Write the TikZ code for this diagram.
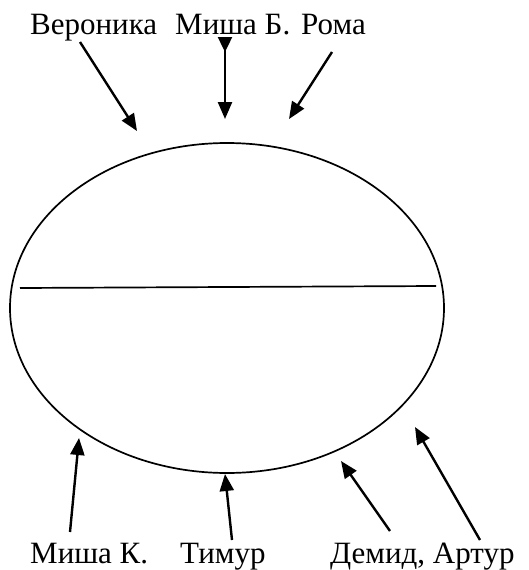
\documentclass[tikz,border=0pt]{standalone}
\usepackage{fontspec}
\setmainfont{Liberation Serif}
\usetikzlibrary{arrows.meta,shapes.geometric}
\begin{document}
\begin{tikzpicture}[x=1pt,y=-1pt,
  lbl/.style={anchor=base west,inner sep=0pt,font=\fontsize{31}{36}\selectfont},
  arr/.style={line width=2.4pt,-{Triangle[width=14pt,length=17pt]}},
  shape line/.style={line width=1.7pt}]
\useasboundingbox (0,0) rectangle (528,570);
\node[lbl] (ver) at (30,34) {Вероника};
\node[lbl] (mishab) at (175,34) {Миша Б.};
\node[lbl] (roma) at (301,34) {Рома};
\node[lbl] (mishak) at (30,563) {Миша К.};
\node[lbl] (timur) at (180,563) {Тимур};
\node[lbl] (demid) at (330,563) {Демид, Артур};
\node[draw,shape line,ellipse,minimum width=434pt,minimum height=330pt,inner sep=0pt] (oval) at (227,308) {};
\coordinate (hl) at (20,288);
\coordinate (hr) at (436,286);
\draw[shape line] (hl) -- (hr);
% top arrows
\coordinate (a1s) at (80,42); \coordinate (a1e) at (137,131);
\coordinate (a2s) at (225,37); \coordinate (a2e) at (225,119);
\coordinate (a3s) at (332,52); \coordinate (a3e) at (289,119);
\draw[arr] (a1s) -- (a1e);
\draw[line width=2.4pt,{Triangle[reversed,width=14pt,length=15pt]}-{Triangle[width=14pt,length=17pt]}] (a2s) -- (a2e);
\draw[arr] (a3s) -- (a3e);
% bottom arrows
\coordinate (b1s) at (70,532); \coordinate (b1e) at (79,438);
\coordinate (b2s) at (232,540); \coordinate (b2e) at (225,474);
\coordinate (b3s) at (390,531); \coordinate (b3e) at (341,461);
\coordinate (b4s) at (480,540); \coordinate (b4e) at (415,427);
\draw[arr] (b1s) -- (b1e);
\draw[arr] (b2s) -- (b2e);
\draw[arr] (b3s) -- (b3e);
\draw[arr] (b4s) -- (b4e);
\end{tikzpicture}
\end{document}
